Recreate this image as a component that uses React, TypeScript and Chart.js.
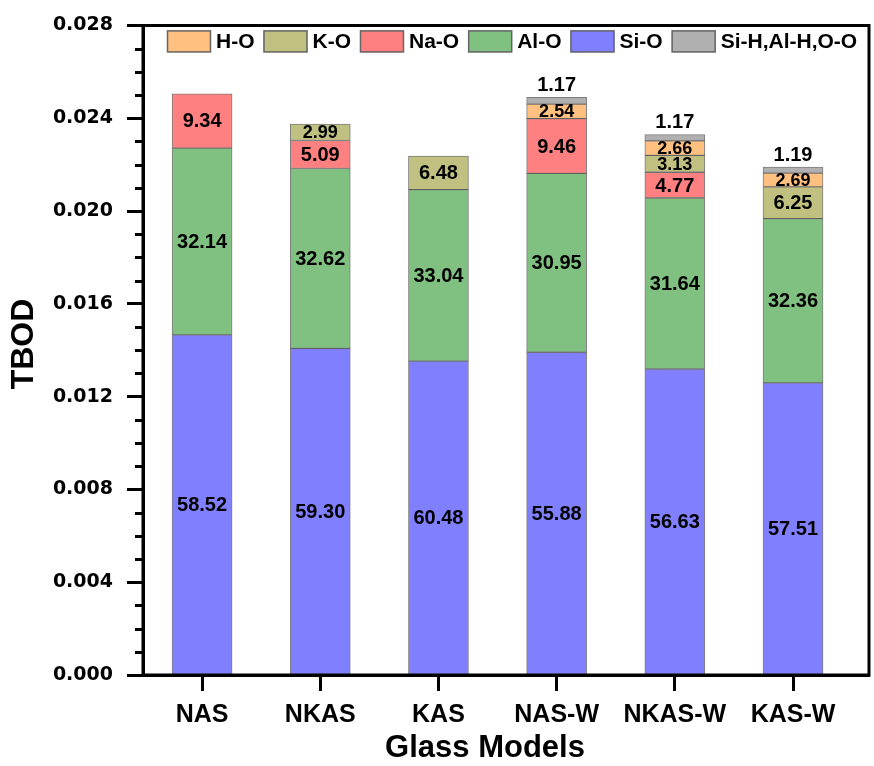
import React, { useEffect, useRef } from 'react';
import { Chart, registerables } from 'chart.js';

Chart.register(...registerables);

// ---------- data ----------
const categories = ['NAS', 'NKAS', 'KAS', 'NAS-W', 'NKAS-W', 'KAS-W'];
const seriesNames = ['Si-O', 'Al-O', 'Na-O', 'K-O', 'H-O', 'Si-H,Al-H,O-O'];

// TBOD contributions (absolute)
const siO = [0.01466, 0.01408, 0.01353, 0.01391, 0.01319, 0.01259];
const alO = [0.00805, 0.00775, 0.00739, 0.00771, 0.00737, 0.00708];
const naO = [0.00234, 0.00121, null, 0.00236, 0.00111, null];
const kO = [null, 0.00071, 0.00145, null, 0.00073, 0.00137];
const hO = [null, null, null, 0.00063, 0.00062, 0.00059];
const siH = [null, null, null, 0.00029, 0.00027, 0.00026];

// percentage labels
const siOPct = ['58.52', '59.30', '60.48', '55.88', '56.63', '57.51'];
const alOPct = ['32.14', '32.62', '33.04', '30.95', '31.64', '32.36'];
const naOPct = ['9.34', '5.09', null, '9.46', '4.77', null];
const kOPct = [null, '2.99', '6.48', null, '3.13', '6.25'];
const hOPct = [null, null, null, '2.54', '2.66', '2.69'];
const siHPct = [null, null, null, '1.17', '1.17', '1.19'];

const yTickValues = [0, 0.004, 0.008, 0.012, 0.016, 0.02, 0.024, 0.028];
const yMinorStep = 0.001;

// ---------- style ----------
const colors = ['#8080FF', '#80C080', '#FF8080', '#C0C080', '#FFC080', '#B0B0B0'];
const legendOrder = [4, 3, 2, 1, 0, 5];
const SANS = "'Liberation Sans', Arial, sans-serif";

const seriesValues = [siO, alO, naO, kO, hO, siH];
const seriesPct = [siOPct, alOPct, naOPct, kOPct, hOPct, siHPct];

const decorPlugin = {
  id: 'decor',
  afterDatasetsDraw(chart: any) {
    const ctx = chart.ctx;
    ctx.save();
    ctx.fillStyle = '#000';
    ctx.textAlign = 'center';
    ctx.textBaseline = 'middle';
    chart.data.datasets.forEach((ds: any, d: number) => {
      const meta = chart.getDatasetMeta(d);
      const labels = seriesPct[d];
      meta.data.forEach((el: any, i: number) => {
        const txt = labels[i];
        if (!txt) return;
        const { x, y, base } = el.getProps(['x', 'y', 'base'], true);
        const h = Math.abs(base - y);
        if (d === 5) {
          ctx.font = `bold 20px ${SANS}`;
          ctx.fillText(txt, x, y - 12);
        } else {
          ctx.font = h < 20 ? `bold 18px ${SANS}` : `bold 20px ${SANS}`;
          ctx.fillText(txt, x, (y + base) / 2 + 1);
        }
      });
    });
    ctx.restore();
  },
  afterDraw(chart: any) {
    const { ctx, chartArea: a, scales } = chart;
    ctx.save();
    // frame
    ctx.strokeStyle = '#000';
    ctx.lineWidth = 3;
    ctx.beginPath();
    ctx.moveTo(a.left, a.top);
    ctx.lineTo(a.right, a.top);
    ctx.lineTo(a.right, a.bottom);
    ctx.lineTo(a.left, a.bottom);
    ctx.closePath();
    ctx.stroke();
    // minor ticks on y
    const ys = scales.y;
    ctx.beginPath();
    const n = Math.round((ys.max - ys.min) / yMinorStep);
    for (let k = 1; k < n; k++) {
      if (k % 4 === 0) continue;
      const py = Math.round(ys.getPixelForValue(ys.min + k * yMinorStep)) + 0.5;
      ctx.moveTo(a.left, py);
      ctx.lineTo(a.left - 8, py);
    }
    ctx.stroke();

    // legend
    ctx.font = `bold 21px ${SANS}`;
    ctx.textBaseline = 'middle';
    ctx.textAlign = 'left';
    let x = a.left + 24;
    const boxW = 44, boxH = 22, boxTop = a.top + 5;
    legendOrder.forEach((d) => {
      ctx.fillStyle = colors[d];
      ctx.fillRect(x, boxTop, boxW, boxH);
      ctx.strokeStyle = '#666';
      ctx.lineWidth = 1.5;
      ctx.strokeRect(x + 0.5, boxTop + 0.5, boxW - 1, boxH - 1);
      ctx.fillStyle = '#000';
      const label = seriesNames[d];
      ctx.fillText(label, x + boxW + 5, boxTop + boxH / 2 + 1);
      x += boxW + 5 + ctx.measureText(label).width + 9;
    });

    // axis titles
    ctx.fillStyle = '#000';
    ctx.textAlign = 'center';
    ctx.font = `bold 31px ${SANS}`;
    ctx.textBaseline = 'alphabetic';
    ctx.fillText('Glass Models', 485, 757);
    ctx.save();
    ctx.translate(24, 344);
    ctx.rotate(-Math.PI / 2);
    ctx.font = `bold 32px ${SANS}`;
    ctx.textBaseline = 'middle';
    ctx.fillText('TBOD', 0, 0);
    ctx.restore();
    ctx.restore();
  },
};

export default function App() {
  const ref = useRef<HTMLCanvasElement | null>(null);
  useEffect(() => {
    if (!ref.current) return;
    const datasets = seriesNames.map((name, d) => ({
      label: name,
      data: seriesValues[d].map((v, i) => ({ x: i, y: v })),
      backgroundColor: colors[d],
      borderColor: 'rgba(40,40,40,0.6)',
      borderWidth: 1,
      borderSkipped: false,
      barThickness: 60,
    }));
    const chart = new Chart(ref.current, {
      type: 'bar',
      data: { datasets },
      plugins: [decorPlugin],
      options: {
        animation: false,
        responsive: false,
        maintainAspectRatio: false,
        devicePixelRatio: 1,
        layout: { padding: { top: 24, right: 5, left: 0, bottom: 0 } },
        plugins: { legend: { display: false }, tooltip: { enabled: false }, title: { display: false } },
        scales: {
          x: {
            type: 'linear',
            stacked: true,
            offset: false,
            min: -0.5,
            max: 5.643,
            afterBuildTicks: (axis: any) => {
              axis.ticks = categories.map((_, i) => ({ value: i }));
            },
            afterFit: (scale: any) => {
              scale.height = 91;
            },
            ticks: {
              autoSkip: false,
              maxRotation: 0,
              minRotation: 0,
              padding: 9,
              color: '#000',
              font: { family: SANS, size: 25, weight: 'bold' },
              callback: (v: any) => categories[v] ?? '',
            },
            grid: { offset: false, drawOnChartArea: false, drawTicks: true, tickLength: 16, tickWidth: 3, tickColor: '#000' },
            border: { display: true, color: '#000', width: 3 },
          },
          y: {
            stacked: true,
            min: 0,
            max: 0.028,
            afterBuildTicks: (axis: any) => {
              axis.ticks = yTickValues.map((v) => ({ value: v }));
            },
            afterFit: (scale: any) => {
              scale.width = 143;
            },
            ticks: {
              padding: 14,
              color: '#000',
              font: { family: "'DejaVu Sans', sans-serif", size: 19, weight: 'bold' },
              callback: (v: any) => Number(v).toFixed(3),
            },
            grid: { drawOnChartArea: false, drawTicks: true, tickLength: 16, tickWidth: 3, tickColor: '#000' },
            border: { display: true, color: '#000', width: 3 },
          },
        },
      } as any,
    });
    return () => chart.destroy();
  }, []);
  return (
    <div style={{ position: 'fixed', left: 0, top: 0, width: 874, height: 766, background: '#fff' }}>
      <canvas ref={ref} width={874} height={766} style={{ display: 'block' }} />
    </div>
  );
}
